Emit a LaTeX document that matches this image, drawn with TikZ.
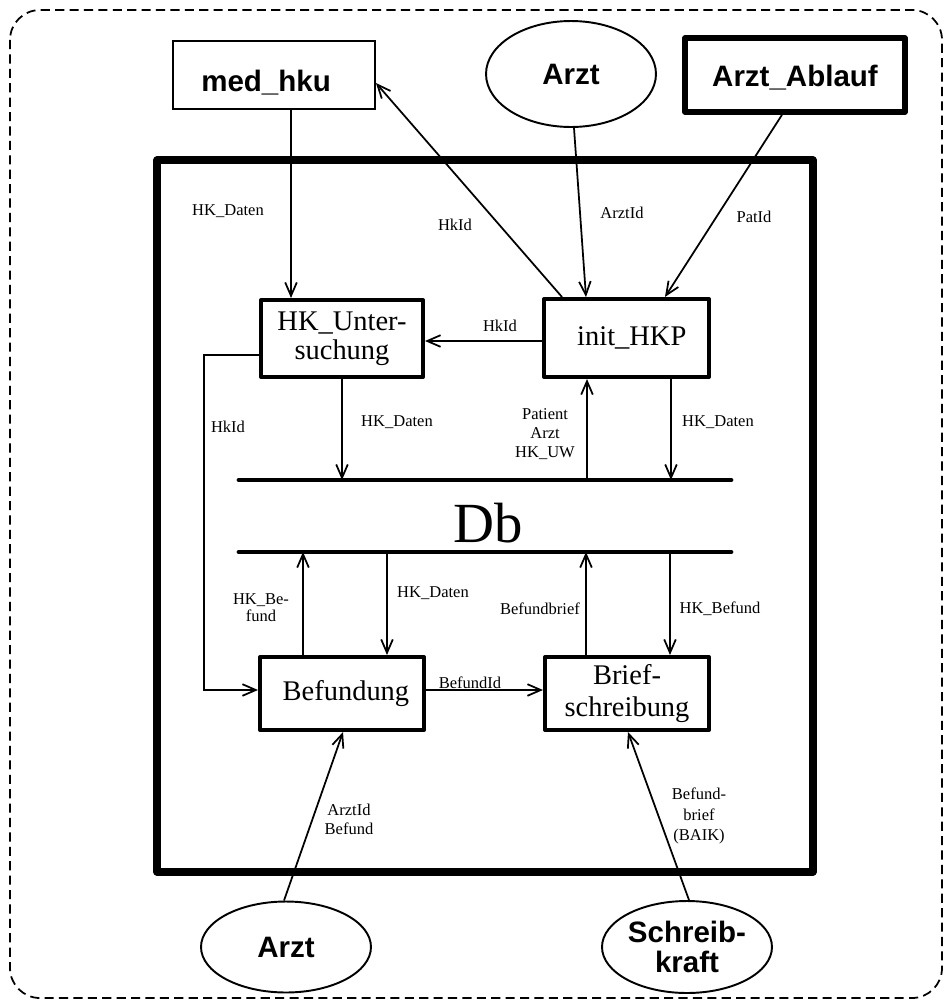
\documentclass[tikz,border=0pt]{standalone}
\usepackage{fontspec}
\setmainfont{Liberation Serif}
\newfontfamily\sfbold{Liberation Sans}
\usetikzlibrary{arrows.meta,calc,shapes.geometric}
\begin{document}
\begin{tikzpicture}[x=0.02cm,y=-0.02cm,
  lbl/.style={font=\fontsize{9.4}{10.8}\selectfont, align=center, inner sep=0pt},
  proc/.style={draw, line width=2.3pt, line join=round, rectangle, inner sep=0pt, align=center, font=\fontsize{16.2}{16.4}\selectfont},
  sansfont/.style={font=\sfbold\bfseries\fontsize{16.8}{17}\selectfont},
  ext/.style={draw, line width=1.1pt, ellipse, inner sep=0pt, align=center, sansfont},
  arr/.style={-{Straight Barb[length=7.6pt,width=6.6pt,line width=1pt]}, line width=1pt},
  dbline/.style={line width=2.8pt, line cap=round},
]
\useasboundingbox (0,0) rectangle (949,1005);
% outer dashed frame and system frame
\draw[line width=1pt, dash pattern=on 5.2pt off 3pt, rounded corners=0.6cm] (10,10) rectangle (942,998);
\draw[line width=4pt, line join=round] (157,160) rectangle (813,872);

% external entities
\node[draw, rectangle, line width=1.1pt, minimum width=4.04cm, minimum height=1.36cm, inner sep=0pt, sansfont] (medhku) at (274,75) {\raisebox{-4.5pt}[\height][\depth]{med\_hku}\hspace*{9pt}};
\node[ext, minimum width=3.4cm, minimum height=2.12cm] (arztT) at (571,74) {Arzt};
\node[draw, rectangle, line width=3.2pt, line join=round, minimum width=4.4cm, minimum height=1.48cm, inner sep=0pt, sansfont] (ablauf) at (795,75) {\raisebox{-1.5pt}[\height][\depth]{Arzt\_Ablauf}};
\node[ext, minimum width=3.4cm, minimum height=1.82cm] (arztB) at (286,947) {Arzt};
\node[ext, minimum width=3.4cm, minimum height=1.84cm] (schreib) at (687,947) {Schreib-\\kraft};

% processes
\node[proc, minimum width=3.24cm, minimum height=1.54cm] (hku) at (342,338.5) {HK\_Unter-\\suchung};
\node[proc, minimum width=3.3cm, minimum height=1.56cm] (init) at (626.5,338) {\hspace*{6pt}init\_HKP};
\node[proc, minimum width=3.28cm, minimum height=1.46cm] (bef) at (342,693.5) {\hspace*{4.5pt}Befundung};
\node[proc, minimum width=3.28cm, minimum height=1.46cm, font=\fontsize{16.2}{18}\selectfont] (brief) at (627,693.5) {Brief-\\schreibung};

% data store
\coordinate (dbU1) at (239,480);
\coordinate (dbU2) at (731,480);
\coordinate (dbL1) at (239,552);
\coordinate (dbL2) at (731,552);
\draw[dbline] (dbU1) -- (dbU2);
\draw[dbline] (dbL1) -- (dbL2);
\node[font=\fontsize{32.3}{34}\selectfont, anchor=base, inner sep=0pt] (db) at (488,542) {Db};

% helper coordinates
\coordinate (hkx) at (204,520);
\coordinate (c7) at ($(init.south)+(-39.5,0)$);
\coordinate (c8) at ($(init.south)+(44.5,0)$);
\coordinate (c10) at ($(bef.north)+(-39,0)$);
\coordinate (c11) at ($(bef.north)+(45,0)$);
\coordinate (c12) at ($(brief.north)+(-41,0)$);
\coordinate (c13) at ($(brief.north)+(43,0)$);

% connectors
\draw[arr] ($(medhku.south)+(17,0)$) -- ($(hku.north)+(-51,0)$);
\draw[arr] ($(init.north)+(-64.5,0)$) -- ($(medhku.east)+(0,8)$);
\draw[arr] ($(arztT.south)+(3,0)$) -- ($(init.north)+(-40.5,0)$);
\draw[arr] ($(ablauf.south)+(-13,0)$) -- ($(init.north)+(38.5,0)$);
\draw[arr] ($(init.west)+(0,3)$) -- ($(hku.east)+(0,2.5)$);
\draw[arr] (hku.south) -- (hku.south |- dbU1);
\draw[arr] (c7 |- dbU1) -- (c7);
\draw[arr] (c8) -- (c8 |- dbU1);
\draw[arr] ($(hku.west)+(0,16.5)$) -| (hkx) |- ($(bef.west)+(0,-3.5)$);
\draw[arr] (c10) -- (c10 |- dbL1);
\draw[arr] (c11 |- dbL1) -- (c11);
\draw[arr] (c12) -- (c12 |- dbL1);
\draw[arr] (c13 |- dbL1) -- (c13);
\draw[arr] ($(bef.east)+(0,-3.5)$) -- ($(brief.west)+(0,-3.5)$);
\draw[arr] ($(arztB.north)+(-2,0)$) -- ($(bef.south)+(1,0)$);
\draw[arr] ($(schreib.north)+(2,0)$) -- ($(brief.south)+(1,0)$);

% labels
\node[lbl] (l1) at (228,211) {HK\_Daten};
\node[lbl] (l2) at (455,225) {HkId};
\node[lbl] (l3) at (622,213) {ArztId};
\node[lbl] (l4) at (754,217) {PatId};
\node[lbl] (l5) at (500,326) {HkId};
\node[lbl] (l6) at (228,427) {HkId};
\node[lbl] (l7) at (397,422) {HK\_Daten};
\node[lbl, font=\fontsize{9.4}{10.8}\selectfont] (l8) at (545,434) {Patient\\Arzt\\HK\_UW};
\node[lbl] (l9) at (718,422) {HK\_Daten};
\node[lbl, font=\fontsize{9.4}{9.6}\selectfont] (l10) at (261,608) {HK\_Be-\\fund};
\node[lbl] (l11) at (433,593) {HK\_Daten};
\node[lbl] (l12) at (540,609) {Befundbrief};
\node[lbl] (l13) at (720,609) {HK\_Befund};
\node[lbl] (l14) at (470,683) {BefundId};
\node[lbl] (l15) at (349,819) {ArztId\\Befund};
\node[lbl, font=\fontsize{9.4}{11.9}\selectfont] (l16) at (699,816) {Befund-\\brief\\(BAIK)};
\end{tikzpicture}
\end{document}
